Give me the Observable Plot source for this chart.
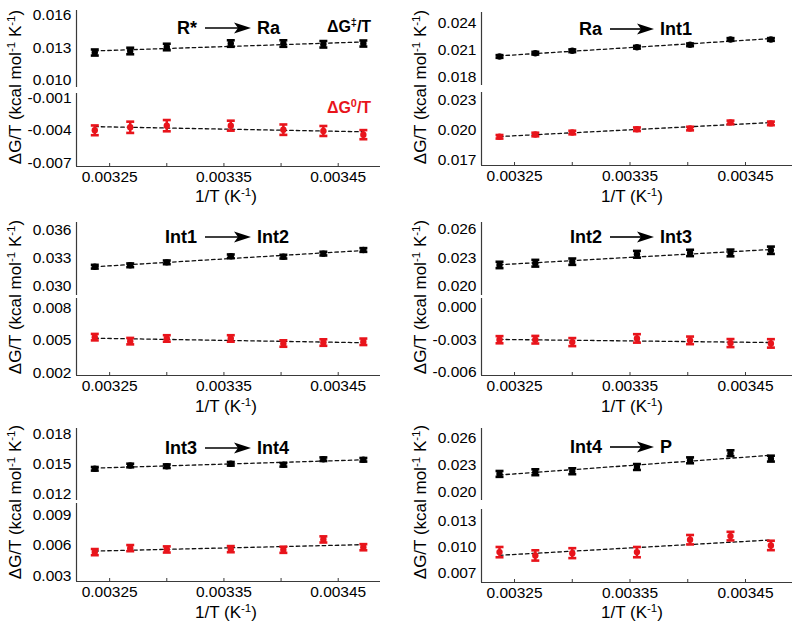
<!DOCTYPE html>
<html><head><meta charset="utf-8">
<script src="https://cdn.jsdelivr.net/npm/d3@7"></script>
<script src="https://cdn.jsdelivr.net/npm/@observablehq/plot@0.6"></script>
<style>
body{margin:0;background:#fff;}
#chart{position:relative;width:795px;height:625px;font-family:"Liberation Sans",Arial,sans-serif;color:#000;overflow:hidden;}
#chart .sub{position:absolute;}
#chart .sub svg{overflow:visible;}
.lab{position:absolute;white-space:nowrap;line-height:1;}
.lab sup{font-size:0.68em;vertical-align:baseline;position:relative;top:-0.55em;}
</style></head><body><div id="chart"></div>
<script>
// ---------- data ----------
const invT = [0.003237, 0.003268, 0.003300, 0.003356, 0.003402, 0.003437, 0.003472];
const xTicks = [0.00325, 0.0033, 0.00335, 0.0034, 0.00345];
const xTickLabels = [0.00325, 0.00335, 0.00345];

// R* -> Ra
const rRaAct    = [0.01258, 0.01272, 0.01309, 0.01341, 0.01341, 0.01334, 0.01341];
const rRaActErr = [0.00028, 0.00030, 0.00030, 0.00030, 0.00030, 0.00030, 0.00028];
const rRaEq     = [-0.00400, -0.00372, -0.00357, -0.00357, -0.00394, -0.00406, -0.00440];
const rRaEqErr  = [0.00045, 0.00052, 0.00052, 0.00046, 0.00048, 0.00046, 0.00042];
const rRaActTicks = [0.010, 0.013, 0.016];
const rRaEqTicks  = [-0.007, -0.004, -0.001];

// Ra -> Int1
const raInt1Act    = [0.02026, 0.02063, 0.02090, 0.02130, 0.02157, 0.02217, 0.02217];
const raInt1ActErr = [0.00015, 0.00015, 0.00015, 0.00015, 0.00015, 0.00015, 0.00015];
const raInt1Eq     = [0.01934, 0.01957, 0.01977, 0.02010, 0.02017, 0.02079, 0.02069];
const raInt1EqErr  = [0.00018, 0.00018, 0.00018, 0.00018, 0.00018, 0.00018, 0.00018];
const raInt1ActTicks = [0.018, 0.021, 0.024];
const raInt1EqTicks  = [0.017, 0.020, 0.023];

// Int1 -> Int2
const i1i2Act    = [0.03210, 0.03225, 0.03257, 0.03322, 0.03318, 0.03351, 0.03390];
const i1i2ActErr = [0.00020, 0.00020, 0.00020, 0.00020, 0.00020, 0.00020, 0.00020];
const i1i2Eq     = [0.00531, 0.00494, 0.00519, 0.00519, 0.00472, 0.00481, 0.00488];
const i1i2EqErr  = [0.00030, 0.00030, 0.00030, 0.00030, 0.00030, 0.00030, 0.00030];
const i1i2ActTicks = [0.030, 0.033, 0.036];
const i1i2EqTicks  = [0.002, 0.005, 0.008];

// Int2 -> Int3
const i2i3Act    = [0.02224, 0.02242, 0.02258, 0.02335, 0.02349, 0.02349, 0.02377];
const i2i3ActErr = [0.00033, 0.00035, 0.00033, 0.00035, 0.00033, 0.00035, 0.00038];
const i2i3Eq     = [-0.00300, -0.00300, -0.00322, -0.00288, -0.00306, -0.00331, -0.00334];
const i2i3EqErr  = [0.00033, 0.00035, 0.00037, 0.00039, 0.00035, 0.00037, 0.00039];
const i2i3ActTicks = [0.020, 0.023, 0.026];
const i2i3EqTicks  = [-0.006, -0.003, 0.000];

// Int3 -> Int4
const i3i4Act    = [0.01450, 0.01483, 0.01476, 0.01500, 0.01490, 0.01546, 0.01540];
const i3i4ActErr = [0.00018, 0.00018, 0.00018, 0.00018, 0.00018, 0.00018, 0.00018];
const i3i4Eq     = [0.00535, 0.00574, 0.00561, 0.00564, 0.00558, 0.00659, 0.00583];
const i3i4EqErr  = [0.00030, 0.00030, 0.00030, 0.00030, 0.00030, 0.00030, 0.00030];
const i3i4ActTicks = [0.012, 0.015, 0.018];
const i3i4EqTicks  = [0.003, 0.006, 0.009];

// Int4 -> P
const i4pAct    = [0.02199, 0.02218, 0.02229, 0.02277, 0.02352, 0.02432, 0.02371];
const i4pActErr = [0.00033, 0.00033, 0.00033, 0.00033, 0.00033, 0.00033, 0.00033];
const i4pEq     = [0.00942, 0.00903, 0.00930, 0.00942, 0.01087, 0.01129, 0.01020];
const i4pEqErr  = [0.00060, 0.00060, 0.00058, 0.00060, 0.00055, 0.00050, 0.00055];
const i4pActTicks = [0.020, 0.023, 0.026];
const i4pEqTicks  = [0.007, 0.010, 0.013];

// ---------- layout ----------
const BLACK = "#000", RED = "#e8141b";
const cols = [
  {svgLeft: 0,   width: 390, axisX: 76,  mr: 10, xDomain: [0.003221, 0.003487], yLabelX: 15,  arrow: [205, 251], xLabelX: 226},
  {svgLeft: 395, width: 400, axisX: 481, mr: 3,  xDomain: [0.0032214, 0.0034907], yLabelX: 420, arrow: [610, 654], xLabelX: 632}
];
const panels = [
  {from: "R*", to: "Ra", col: 0, titleY: 28, yLabelY: 87, xLabelY: 196,
   act: rRaAct, actErr: rRaActErr, actTicks: rRaActTicks, actDomain: [0.00935, 0.01646], actPx: [10, 87],
   eq: rRaEq, eqErr: rRaEqErr, eqTicks: rRaEqTicks, eqDomain: [-0.00734, -0.0006], eqPx: [93, 166]},
  {from: "Ra", to: "Int1", col: 1, titleY: 29, yLabelY: 87, xLabelY: 196,
   act: raInt1Act, actErr: raInt1ActErr, actTicks: raInt1ActTicks, actDomain: [0.017, 0.0252], actPx: [12, 85],
   eq: raInt1Eq, eqErr: raInt1EqErr, eqTicks: raInt1EqTicks, eqDomain: [0.01645, 0.0238], eqPx: [92, 165]},
  {from: "Int1", to: "Int2", col: 0, titleY: 237, yLabelY: 297, xLabelY: 406,
   act: i1i2Act, actErr: i1i2ActErr, actTicks: i1i2ActTicks, actDomain: [0.029, 0.03686], actPx: [222, 295],
   eq: i1i2Eq, eqErr: i1i2EqErr, eqTicks: i1i2EqTicks, eqDomain: [0.00175, 0.0089], eqPx: [298, 375]},
  {from: "Int2", to: "Int3", col: 1, titleY: 237, yLabelY: 297, xLabelY: 406,
   act: i2i3Act, actErr: i2i3ActErr, actTicks: i2i3ActTicks, actDomain: [0.01906, 0.02666], actPx: [222, 295],
   eq: i2i3Eq, eqErr: i2i3EqErr, eqTicks: i2i3EqTicks, eqDomain: [-0.0063, 0.0008], eqPx: [298, 375]},
  {from: "Int3", to: "Int4", col: 0, titleY: 448, yLabelY: 502, xLabelY: 612,
   act: i3i4Act, actErr: i3i4ActErr, actTicks: i3i4ActTicks, actDomain: [0.01133, 0.01853], actPx: [428, 500],
   eq: i3i4Eq, eqErr: i3i4EqErr, eqTicks: i3i4EqTicks, eqDomain: [0.00248, 0.0101], eqPx: [503, 581]},
  {from: "Int4", to: "P", col: 1, titleY: 447, yLabelY: 502, xLabelY: 612,
   act: i4pAct, actErr: i4pActErr, actTicks: i4pActTicks, actDomain: [0.019, 0.0271], actPx: [428, 500],
   eq: i4pEq, eqErr: i4pEqErr, eqTicks: i4pEqTicks, eqDomain: [0.00587, 0.0144], eqPx: [509, 582]}
];

const chart = document.getElementById("chart");
const FONT = '"Liberation Sans", Arial, sans-serif';
const AXIS = "#3a3a3a";

const capSymbol = {
  draw(context, size) {
    const r = Math.sqrt(size / Math.PI);
    context.moveTo(-r, 0);
    context.lineTo(r, 0);
  }
};

function subplot(col, values, errs, ticks, domain, px, color, withX) {
  const data = invT.map((x, i) => ({x, y: values[i], e: errs[i]}));
  const mt = 8;
  const mb = withX ? 32 : 2;
  const height = mt + (px[1] - px[0]) + mb;
  const marks = [
    Plot.axisY({ticks, tickFormat: d => d.toFixed(3), tickSize: 0, tickPadding: 5,
                label: null, fontSize: 15.5}),
    Plot.ruleX(col.xDomain.slice(0, 1), {stroke: AXIS, strokeWidth: 1.2}),
    Plot.linearRegressionY(data, {x: "x", y: "y", stroke: "#111", strokeWidth: 1.3, strokeDasharray: "3.5,3", ci: 0}),
    Plot.ruleX(data, {x: "x", y1: d => d.y - d.e, y2: d => d.y + d.e, stroke: color, strokeWidth: 2.5}),
    Plot.dot(data, {x: "x", y: d => d.y + d.e, symbol: capSymbol, r: 4, fill: "none", stroke: color, strokeWidth: 2.6}),
    Plot.dot(data, {x: "x", y: d => d.y - d.e, symbol: capSymbol, r: 4, fill: "none", stroke: color, strokeWidth: 2.6}),
    Plot.dot(data, {x: "x", y: "y", r: 3.2, fill: color})
  ];
  if (withX) {
    marks.unshift(
      Plot.axisX({ticks: xTicks, tickFormat: d => xTickLabels.includes(d) ? d.toFixed(5) : "",
        tickSize: -3, tickPadding: 7, label: null, stroke: AXIS, fontSize: 15.5}),
      Plot.ruleY(domain.slice(0, 1), {stroke: AXIS, strokeWidth: 1.2})
    );
  }
  const p = Plot.plot({
    width: col.width, height,
    marginLeft: col.axisX - col.svgLeft, marginRight: col.mr, marginTop: mt, marginBottom: mb,
    style: {fontFamily: FONT, fontSize: "15.5px", color: "#000", background: "transparent"},
    x: {domain: col.xDomain, axis: withX ? undefined : null},
    y: {domain},
    marks
  });
  const wrap = document.createElement("div");
  wrap.className = "sub";
  wrap.style.left = col.svgLeft + "px";
  wrap.style.top = (px[0] - mt) + "px";
  wrap.appendChild(p);
  chart.appendChild(wrap);
}

function label(html, x, y, opts = {}) {
  const d = document.createElement("div");
  d.className = "lab";
  d.innerHTML = html;
  d.style.left = x + "px";
  d.style.top = y + "px";
  d.style.fontSize = (opts.size || 17) + "px";
  if (opts.bold) d.style.fontWeight = "bold";
  if (opts.color) d.style.color = opts.color;
  let tf = opts.anchor === "end" ? "translate(-100%,-50%)" : opts.anchor === "start" ? "translate(0,-50%)" : "translate(-50%,-50%)";
  if (opts.rotate) tf += " rotate(-90deg)";
  d.style.transform = tf;
  chart.appendChild(d);
  return d;
}

function arrow(x0, x1, y) {
  const w = x1 - x0;
  const svg = d3.create("svg").attr("width", w).attr("height", 14)
    .style("position", "absolute").style("left", x0 + "px").style("top", (y - 7) + "px");
  svg.append("line").attr("x1", 0).attr("x2", w - 12).attr("y1", 7).attr("y2", 7)
    .attr("stroke", "#000").attr("stroke-width", 1.6);
  svg.append("path").attr("d", `M${w - 17},1.5 L${w},7 L${w - 17},12.5 L${w - 13},7 Z`).attr("fill", "#000");
  chart.appendChild(svg.node());
}

for (const p of panels) {
  const col = cols[p.col];
  subplot(col, p.act, p.actErr, p.actTicks, p.actDomain, p.actPx, BLACK, false);
  subplot(col, p.eq, p.eqErr, p.eqTicks, p.eqDomain, p.eqPx, RED, true);
  // reaction title
  label(p.from, col.arrow[0] - 8, p.titleY, {bold: true, size: 18, anchor: "end"});
  arrow(col.arrow[0], col.arrow[1], p.titleY);
  label(p.to, col.arrow[1] + 6, p.titleY, {bold: true, size: 18, anchor: "start"});
  // axis labels
  label("ΔG/T (kcal mol<sup>-1</sup> K<sup>-1</sup>)", col.yLabelX, p.yLabelY, {size: 17, rotate: true});
  label("1/T (K<sup>-1</sup>)", col.xLabelX, p.xLabelY, {size: 17});
}
// series labels (first panel)
label("ΔG<sup>‡</sup>/T", 349, 27, {bold: true, size: 16});
label("ΔG<sup>0</sup>/T", 349, 108, {bold: true, size: 16, color: RED});
</script></body></html>
